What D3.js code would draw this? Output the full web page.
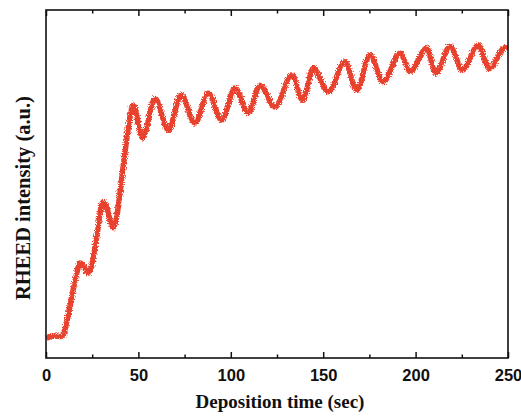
<!DOCTYPE html>
<html>
<head>
<meta charset="utf-8">
<script src="https://cdn.jsdelivr.net/npm/d3@7"></script>
<style>
  html, body { margin: 0; padding: 0; background: #fff; }
  svg { display: block; }
</style>
</head>
<body>
<svg id="chart" width="521" height="416"></svg>
<script>
// Deposition time (sec)
const times = [0.3, 4.3, 8.7, 11.5, 14, 16.5, 18.4, 20.6, 22.7, 24.4, 27.5, 30.8, 32.5, 36.3, 37.9,
  42, 46, 47.2, 52.3, 59.0, 66.2, 73.1, 80.6, 87.8, 95.1, 102.3, 109.5, 115.8,
  123.9, 133, 138.9, 144.6, 152.8, 161.8, 168.1, 175.3, 182.5, 191.6, 197,
  206, 211, 218.6, 225.5, 233.9, 239.9, 247.5, 250];
// RHEED intensity (a.u.)
const intensity = [0.057, 0.063, 0.062, 0.110, 0.178, 0.240, 0.273, 0.264, 0.244, 0.259, 0.350, 0.448, 0.437, 0.374, 0.397,
  0.560, 0.707, 0.727, 0.632, 0.746, 0.655, 0.756, 0.675, 0.761, 0.684, 0.776, 0.704, 0.784,
  0.721, 0.813, 0.741, 0.832, 0.765, 0.851, 0.770, 0.871, 0.794, 0.876, 0.823,
  0.890, 0.818, 0.895, 0.828, 0.899, 0.832, 0.890, 0.895];
const xMajorTicks = [0, 50, 100, 150, 200, 250];
const xMinorTicks = [25, 75, 125, 175, 225];

const svg = d3.select("#chart");
const mLeft = 46, mRight = 508, mTop = 10, mBottom = 358;

const x = d3.scaleLinear().domain([0, 250]).range([mLeft, mRight]);
const y = d3.scaleLinear().domain([0, 1]).range([mBottom, mTop]);

// noisy texture filter for the trace
const defs = svg.append("defs");
const f = defs.append("filter").attr("id", "rough").attr("x", "-5%").attr("y", "-20%").attr("width", "110%").attr("height", "140%");
f.append("feTurbulence").attr("type", "fractalNoise").attr("baseFrequency", "0.9").attr("numOctaves", 2).attr("seed", 3).attr("result", "n");
f.append("feDisplacementMap").attr("in", "SourceGraphic").attr("in2", "n").attr("scale", 5).attr("xChannelSelector", "R").attr("yChannelSelector", "G");

const data = times.map((t, i) => [t, intensity[i]]);
const line = d3.line().x(d => x(d[0])).y(d => y(d[1])).curve(d3.curveMonotoneX);

svg.append("path").datum(data)
  .attr("d", line)
  .attr("fill", "none")
  .attr("stroke", "#e8432e")
  .attr("stroke-width", 5.5)
  .attr("stroke-linejoin", "round")
  .attr("filter", "url(#rough)");

function styleTicks(g) {
  g.select(".domain").remove();
  g.selectAll("line").attr("stroke", "#111").attr("stroke-width", 1.5);
}

// Axes
const bottomAxis = d3.axisBottom(x).tickValues(xMajorTicks).tickSizeInner(-6).tickSizeOuter(0).tickPadding(11).tickFormat(d3.format("d"));
const gB = svg.append("g").attr("transform", `translate(0,${mBottom})`).call(bottomAxis);
styleTicks(gB);
gB.selectAll("text").attr("font-family", "'Liberation Sans', Arial, sans-serif").attr("font-weight", "bold").attr("font-size", 16.5).attr("fill", "#111");

const gBm = svg.append("g").attr("transform", `translate(0,${mBottom})`)
  .call(d3.axisBottom(x).tickValues(xMinorTicks).tickSizeInner(-3.5).tickSizeOuter(0).tickFormat(""));
styleTicks(gBm);

const gT = svg.append("g").attr("transform", `translate(0,${mTop})`)
  .call(d3.axisTop(x).tickValues(xMajorTicks).tickSizeInner(-6).tickSizeOuter(0).tickFormat(""));
styleTicks(gT);
const gTm = svg.append("g").attr("transform", `translate(0,${mTop})`)
  .call(d3.axisTop(x).tickValues(xMinorTicks).tickSizeInner(-3.5).tickSizeOuter(0).tickFormat(""));
styleTicks(gTm);

// Frame
svg.append("rect").attr("x", mLeft).attr("y", mTop).attr("width", mRight - mLeft).attr("height", mBottom - mTop)
  .attr("fill", "none").attr("stroke", "#111").attr("stroke-width", 1.6);

// Axis titles
svg.append("text").attr("x", 280).attr("y", 408).attr("text-anchor", "middle")
  .attr("font-family", "'Liberation Serif', 'Times New Roman', serif").attr("font-weight", "bold").attr("font-size", 19)
  .attr("fill", "#111").text("Deposition time (sec)");
svg.append("text").attr("transform", "translate(30,198) rotate(-90)").attr("text-anchor", "middle")
  .attr("font-family", "'Liberation Serif', 'Times New Roman', serif").attr("font-weight", "bold").attr("font-size", 20.5)
  .attr("fill", "#111").text("RHEED intensity (a.u.)");
</script>
</body>
</html>
